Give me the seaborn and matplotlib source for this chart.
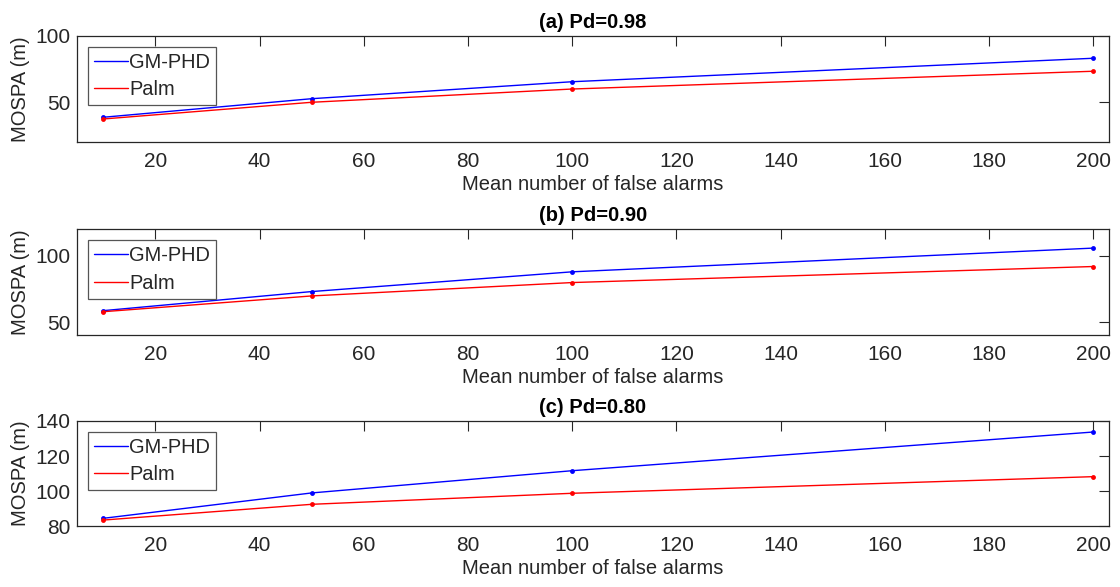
import matplotlib
matplotlib.use("Agg")
import matplotlib.pyplot as plt
import seaborn as sns
import pandas as pd

sns.set_theme(style="white")
plt.rcParams['font.family'] = ['Liberation Sans', 'DejaVu Sans']

false_alarms = [10, 50, 100, 200]
titles = ["(a) Pd=0.98", "(b) Pd=0.90", "(c) Pd=0.80"]
gmphd_a = [38.7, 52.7, 65.5, 83.2]
palm_a = [37.4, 50.0, 60.0, 73.4]
gmphd_b = [58.6, 73.0, 87.9, 105.8]
palm_b = [57.8, 69.7, 79.8, 91.9]
gmphd_c = [84.4, 98.9, 111.6, 133.7]
palm_c = [83.4, 92.4, 98.7, 108.2]
ylims = [(20, 100), (40, 120), (80, 140)]
yticks = [[50, 100], [50, 100], [80, 100, 120, 140]]
xticks = [20, 40, 60, 80, 100, 120, 140, 160, 180, 200]
series_names = ["GM-PHD", "Palm"]
colors = {"GM-PHD": "#0000ff", "Palm": "#ff0000"}

panels = [(gmphd_a, palm_a), (gmphd_b, palm_b), (gmphd_c, palm_c)]
positions = [(0.069, 0.758, 0.921, 0.1807),
             (0.069, 0.4288, 0.921, 0.1806),
             (0.069, 0.1039, 0.921, 0.1789)]

fig = plt.figure(figsize=(11.2, 5.87), dpi=100)
dark = "#262626"
for i, (g, p) in enumerate(panels):
    ax = fig.add_axes(positions[i])
    df = pd.DataFrame({
        "x": false_alarms * 2,
        "y": list(g) + list(p),
        "method": [series_names[0]] * 4 + [series_names[1]] * 4,
    })
    sns.lineplot(data=df, x="x", y="y", hue="method", palette=colors,
                 marker="o", markersize=3.5, markeredgewidth=0,
                 linewidth=1.0, ax=ax, legend=True)
    ax.set_xlim(5, 203)
    ax.set_ylim(*ylims[i])
    ax.set_xticks(xticks)
    ax.set_yticks(yticks[i])
    ax.set_title(titles[i], fontsize=14.5, fontweight="bold", pad=6, color="black")
    ax.set_xlabel("Mean number of false alarms", fontsize=14.5, color=dark, labelpad=3)
    ax.set_ylabel("MOSPA (m)", fontsize=14.5, color=dark, labelpad=4)
    ax.tick_params(direction="in", length=7.5, width=0.8, colors=dark,
                   labelsize=15, top=True, right=True, pad=7)
    ax.tick_params(axis="y", pad=5)
    for s in ax.spines.values():
        s.set_color(dark)
        s.set_linewidth(0.9)
        s.set_visible(True)
    handles, labels = ax.get_legend_handles_labels()
    for h in handles:
        h.set_marker("")
    leg = ax.legend(handles, labels, loc="upper left", fontsize=14.4, frameon=True,
                    fancybox=False, edgecolor="#555555", framealpha=1,
                    handlelength=1.7, handletextpad=0.05, borderpad=0.3,
                    labelspacing=0.42, borderaxespad=0,
                    bbox_to_anchor=(0.0104, 0.896))
    leg.get_frame().set_linewidth(0.9)

fig.savefig("out.png", dpi=100)
